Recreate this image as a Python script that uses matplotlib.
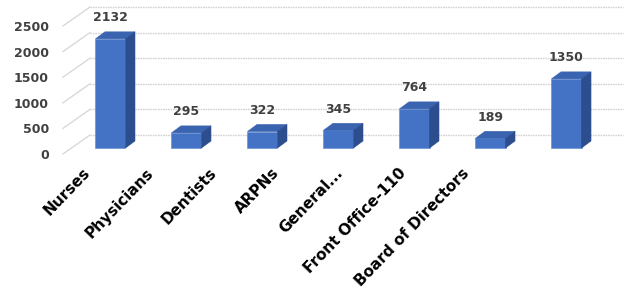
import numpy as np
import matplotlib.pyplot as plt
from matplotlib.patches import Polygon

# data
categories = ["Nurses", "Physicians", "Dentists", "ARPNs", "General...",
              "Front Office-110", "Board of Directors"]
counts = [2132, 295, 322, 345, 764, 189, 1350]
yticks = [0, 500, 1000, 1500, 2000, 2500]

# fake 3D geometry (in data units)
bar_w = 0.395
depth_dx, depth_dy = 0.125, 137      # bar depth offset
back_dx, back_dy = -0.27, 254        # back wall start x / vertical shift
front_dx, front_dy = -0.625, -117    # front-left edge of the floor
wall_end = 6.74

front_col = "#4472C4"
top_col = "#3A63B0"
side_col = "#2D4E8E"

fig = plt.figure(figsize=(6.27, 3.05), dpi=100)
ax = fig.add_axes([60 / 627, 140 / 305, 567 / 627, 165 / 305])
ax.set_xlim(-0.664, 6.796)
ax.set_ylim(-332, 2891)
for s in ax.spines.values():
    s.set_visible(False)

# back wall gridlines + left diagonal edges
for v in yticks:
    ax.plot([back_dx, wall_end], [v + back_dy, v + back_dy],
            color="#D3D3D3", lw=1.0, ls=(0, (1.2, 0.6)), zorder=1)
    ax.plot([front_dx, back_dx], [v + front_dy, v + back_dy],
            color="#D9D9D9", lw=1.0, zorder=1)

# bars
x = np.arange(len(counts))
for xi, v in zip(x, counts):
    x0, x1 = xi - bar_w / 2, xi + bar_w / 2
    ax.add_patch(Polygon([(x0, 0), (x1, 0), (x1, v), (x0, v)],
                         closed=True, fc=front_col, ec="#5B86D0", lw=0.4, zorder=3))
    ax.add_patch(Polygon([(x0, v), (x1, v), (x1 + depth_dx, v + depth_dy),
                          (x0 + depth_dx, v + depth_dy)],
                         closed=True, fc=top_col, ec=top_col, lw=0.4, zorder=3))
    ax.add_patch(Polygon([(x1, 0), (x1 + depth_dx, depth_dy),
                          (x1 + depth_dx, v + depth_dy), (x1, v)],
                         closed=True, fc=side_col, ec=side_col, lw=0.4, zorder=3))
    ax.annotate(f"{v}", xy=(xi, v + depth_dy), xytext=(0, 5.5),
                textcoords="offset points", ha="center", va="bottom",
                fontsize=9, fontweight="bold", color="#404040", zorder=4)

# y tick labels on the front plane
ax.set_yticks([v + front_dy for v in yticks], [str(v) for v in yticks])
ax.tick_params(axis="y", length=0, pad=8, labelsize=9, labelcolor="#404040")
for lab in ax.get_yticklabels():
    lab.set_fontweight("bold")

# x tick labels (front plane is narrower than bar spacing)
label_pos = x * 0.83 - 0.296
ax.set_xticks(label_pos, categories)
ax.tick_params(axis="x", length=0, pad=4)
for lab in ax.get_xticklabels():
    lab.set_rotation(46)
    lab.set_ha("right")
    lab.set_va("center")
    lab.set_rotation_mode("anchor")
    lab.set_fontweight("bold")
    lab.set_fontsize(11)
    lab.set_color("black")

fig.savefig("out.png", dpi=100)
